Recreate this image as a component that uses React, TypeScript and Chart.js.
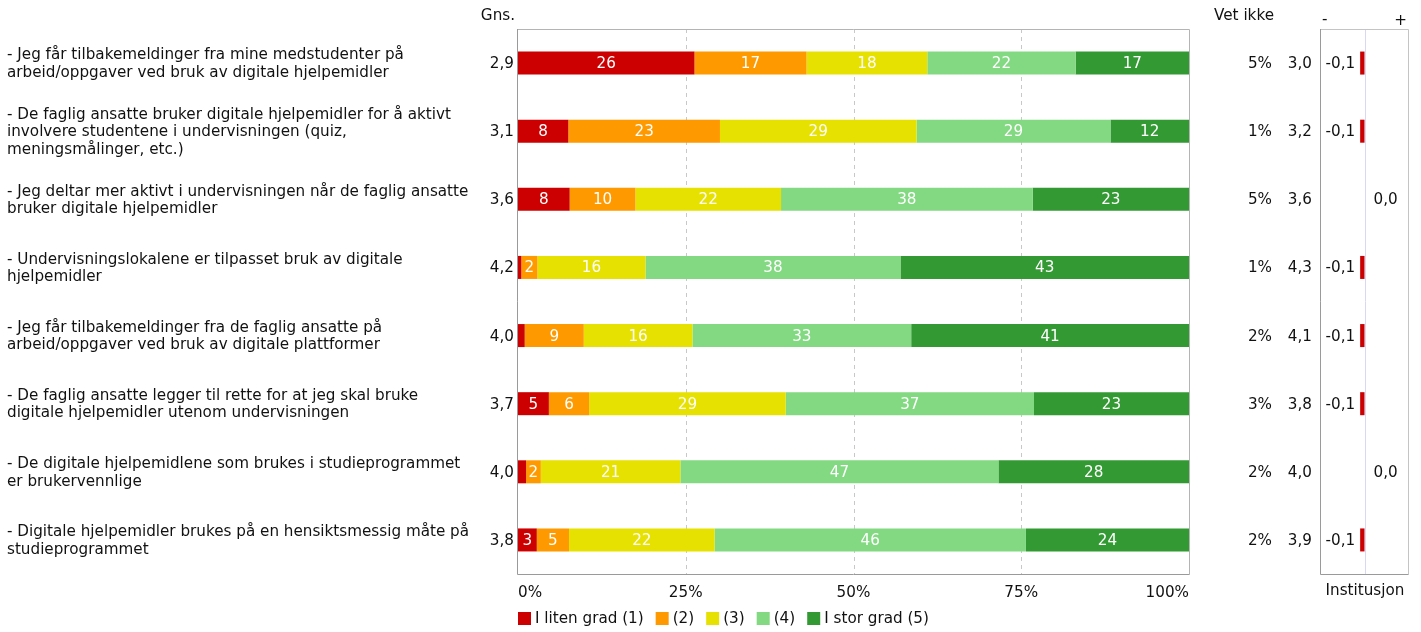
import React, { useEffect, useRef } from "react";
import { Chart, registerables } from "chart.js";

Chart.register(...registerables);

const categories: string[][] = [
  ["- Jeg får tilbakemeldinger fra mine medstudenter på", "arbeid/oppgaver ved bruk av digitale hjelpemidler"],
  ["- De faglig ansatte bruker digitale hjelpemidler for å aktivt", "involvere studentene i undervisningen (quiz,", "meningsmålinger, etc.)"],
  ["- Jeg deltar mer aktivt i undervisningen når de faglig ansatte", "bruker digitale hjelpemidler"],
  ["- Undervisningslokalene er tilpasset bruk av digitale", "hjelpemidler"],
  ["- Jeg får tilbakemeldinger fra de faglig ansatte på", "arbeid/oppgaver ved bruk av digitale plattformer"],
  ["- De faglig ansatte legger til rette for at jeg skal bruke", "digitale hjelpemidler utenom undervisningen"],
  ["- De digitale hjelpemidlene som brukes i studieprogrammet", "er brukervennlige"],
  ["- Digitale hjelpemidler brukes på en hensiktsmessig måte på", "studieprogrammet"],
];

const seriesNames = ["I liten grad (1)", "(2)", "(3)", "(4)", "I stor grad (5)"];
const s1 = [26.3, 7.5, 7.7, 0.5, 1.0, 4.6, 1.2, 2.8];
const s2 = [16.7, 22.6, 9.8, 2.4, 8.8, 6.0, 2.2, 4.8];
const s3 = [18.0, 29.3, 21.7, 16.1, 16.2, 29.3, 20.8, 21.7];
const s4 = [22.1, 28.9, 37.5, 38.0, 32.6, 37.0, 47.4, 46.4];
const s5 = [16.9, 11.7, 23.3, 43.0, 41.4, 23.1, 28.4, 24.3];
const seriesColors = ["#cc0000", "#ff9900", "#e6e100", "#82d982", "#339933"];

const gns = [2.9, 3.1, 3.6, 4.2, 4.0, 3.7, 4.0, 3.8];
const vetIkke = [5, 1, 5, 1, 2, 3, 2, 2];
const instMean = [3.0, 3.2, 3.6, 4.3, 4.1, 3.8, 4.0, 3.9];
const instDiff = [-0.1, -0.1, 0.0, -0.1, -0.1, -0.1, 0.0, -0.1];

const xTicks = [0, 25, 50, 75, 100];

const FONT = "'DejaVu Sans', Verdana, sans-serif";
const FS = 15.2;
const TXT = "#111";

const W = 1421;
const H = 632;
const BAR_PCT = 23 / 68.1;

const fmt = (v: number) => v.toFixed(1).replace(".", ",");

export default function App() {
  const mainRef = useRef<HTMLCanvasElement>(null);
  const instRef = useRef<HTMLCanvasElement>(null);

  useEffect(() => {
    const labels = categories.map((c) => c.join(" "));
    const seriesData = [s1, s2, s3, s4, s5];

    const mainPlugin = {
      id: "mainDecor",
      beforeDatasetsDraw(chart: any) {
        const { ctx, chartArea: a, scales } = chart;
        const x = scales.x;
        ctx.save();
        ctx.strokeStyle = "#c8c8c8";
        ctx.lineWidth = 1;
        ctx.setLineDash([4, 4]);
        for (const t of [25, 50, 75]) {
          const px = Math.round(x.getPixelForValue(t)) + 0.5;
          ctx.beginPath();
          ctx.moveTo(px, a.top);
          ctx.lineTo(px, a.bottom);
          ctx.stroke();
        }
        ctx.setLineDash([]);
        ctx.restore();
      },
      afterDatasetsDraw(chart: any) {
        const { ctx, chartArea: a, scales } = chart;
        const x = scales.x;
        const y = scales.y;
        ctx.save();
        ctx.lineWidth = 1;
        ctx.strokeStyle = "#b4b4b4";
        ctx.beginPath();
        ctx.moveTo(a.left, a.top + 0.5);
        ctx.lineTo(a.right + 0.5, a.top + 0.5);
        ctx.lineTo(a.right + 0.5, a.bottom + 0.5);
        ctx.stroke();
        ctx.strokeStyle = "#9a9a9a";
        ctx.beginPath();
        ctx.moveTo(a.left - 0.5, a.top);
        ctx.lineTo(a.left - 0.5, a.bottom + 0.5);
        ctx.lineTo(a.right + 0.5, a.bottom + 0.5);
        ctx.stroke();

        ctx.font = `${FS}px ${FONT}`;
        ctx.fillStyle = "#ffffff";
        ctx.textAlign = "center";
        ctx.textBaseline = "middle";
        chart.data.datasets.forEach((ds: any, di: number) => {
          const meta = chart.getDatasetMeta(di);
          meta.data.forEach((el: any, i: number) => {
            const v = ds.data[i];
            if (v < 1.5) return;
            const cx = (el.x + el.base) / 2;
            ctx.fillText(String(Math.round(v)), cx, el.y + 1);
          });
        });

        ctx.fillStyle = TXT;
        ctx.textAlign = "right";
        ctx.fillText("Gns.", a.left - 3, 16);
        ctx.fillText("Vet ikke", 1274, 16);

        categories.forEach((lines, i) => {
          const cy = y.getPixelForValue(i);
          ctx.textAlign = "left";
          const lh = 17.5;
          const start = cy - ((lines.length - 1) * lh) / 2;
          lines.forEach((ln, k) => ctx.fillText(ln, 7, start + k * lh + 1));
          ctx.textAlign = "right";
          ctx.fillText(fmt(gns[i]), a.left - 4, cy + 1);
          ctx.fillText(vetIkke[i] + "%", 1272, cy + 1);
          ctx.fillText(fmt(instMean[i]), 1312, cy + 1);
        });

        xTicks.forEach((t, k) => {
          const px = x.getPixelForValue(t);
          ctx.textAlign = k === 0 ? "left" : k === xTicks.length - 1 ? "right" : "center";
          ctx.fillText(t + "%", px, a.bottom + 19);
        });

        let lx = a.left;
        const ly = 619;
        chart.data.datasets.forEach((ds: any) => {
          ctx.fillStyle = ds.backgroundColor;
          ctx.fillRect(lx, ly - 7, 13, 13);
          ctx.fillStyle = TXT;
          ctx.textAlign = "left";
          ctx.fillText(ds.label, lx + 17, ly);
          lx += 17 + ctx.measureText(ds.label).width + 12;
        });
        ctx.restore();
      },
    };

    const main = new Chart(mainRef.current!, {
      type: "bar",
      data: {
        labels,
        datasets: seriesData.map((d, k) => ({
          label: seriesNames[k],
          data: d,
          backgroundColor: seriesColors[k],
          borderWidth: 0,
          categoryPercentage: 1,
          barPercentage: BAR_PCT,
        })),
      },
      options: {
        indexAxis: "y",
        animation: false,
        responsive: false,
        maintainAspectRatio: false,
        layout: { padding: { left: 518, right: W - 1189, top: 29, bottom: H - 574 } },
        plugins: { legend: { display: false }, tooltip: { enabled: false } },
        scales: {
          x: { stacked: true, min: 0, max: 100, display: false },
          y: { stacked: true, display: false },
        },
      },
      plugins: [mainPlugin],
    } as any);

    const instPlugin = {
      id: "instDecor",
      beforeDatasetsDraw(chart: any) {
        const { ctx, chartArea: a, scales } = chart;
        const px = Math.round(scales.x.getPixelForValue(0)) + 0.5;
        ctx.save();
        ctx.strokeStyle = "#d8d8f4";
        ctx.lineWidth = 1;
        ctx.beginPath();
        ctx.moveTo(px, a.top);
        ctx.lineTo(px, a.bottom);
        ctx.stroke();
        ctx.restore();
      },
      afterDatasetsDraw(chart: any) {
        const { ctx, chartArea: a, scales } = chart;
        const x = scales.x;
        const y = scales.y;
        ctx.save();
        ctx.lineWidth = 1;
        ctx.strokeStyle = "#c4c4c4";
        ctx.beginPath();
        ctx.moveTo(a.left, a.top + 0.5);
        ctx.lineTo(a.right + 0.5, a.top + 0.5);
        ctx.lineTo(a.right + 0.5, a.bottom + 0.5);
        ctx.stroke();
        ctx.strokeStyle = "#9a9a9a";
        ctx.beginPath();
        ctx.moveTo(a.left - 0.5, a.top);
        ctx.lineTo(a.left - 0.5, a.bottom + 0.5);
        ctx.lineTo(a.right + 0.5, a.bottom + 0.5);
        ctx.stroke();

        ctx.font = `${FS}px ${FONT}`;
        ctx.fillStyle = TXT;
        ctx.textBaseline = "middle";
        const zero = x.getPixelForValue(0);
        instDiff.forEach((v, i) => {
          const cy = y.getPixelForValue(i);
          if (v < 0) {
            ctx.textAlign = "right";
            ctx.fillText(fmt(v), x.getPixelForValue(v) - 5, cy + 1);
          } else {
            ctx.textAlign = "left";
            ctx.fillText(fmt(v), zero + 9, cy + 1);
          }
        });
        ctx.textAlign = "left";
        ctx.fillText("-", a.left + 1, 20);
        ctx.textAlign = "right";
        ctx.fillText("+", a.right - 1, 21);
        ctx.textAlign = "center";
        ctx.fillText("Institusjon", (a.left + a.right) / 2 + 0.5, a.bottom + 17);
        ctx.restore();
      },
    };

    const inst = new Chart(instRef.current!, {
      type: "bar",
      data: {
        labels,
        datasets: [
          {
            label: "Institusjon",
            data: instDiff,
            backgroundColor: "#cc0000",
            borderWidth: 0,
            categoryPercentage: 1,
            barPercentage: BAR_PCT,
          },
        ],
      },
      options: {
        indexAxis: "y",
        animation: false,
        responsive: false,
        maintainAspectRatio: false,
        layout: { padding: { left: 1321, right: W - 1408, top: 29, bottom: H - 574 } },
        plugins: { legend: { display: false }, tooltip: { enabled: false } },
        scales: {
          x: { min: -1, max: 1, display: false },
          y: { display: false },
        },
      },
      plugins: [instPlugin],
    } as any);

    return () => {
      main.destroy();
      inst.destroy();
    };
  }, []);

  return (
    <div style={{ position: "absolute", left: 0, top: 0, width: W, height: H, background: "#fff" }}>
      <canvas ref={mainRef} width={W} height={H} style={{ position: "absolute", left: 0, top: 0 }} />
      <canvas ref={instRef} width={W} height={H} style={{ position: "absolute", left: 0, top: 0 }} />
    </div>
  );
}
